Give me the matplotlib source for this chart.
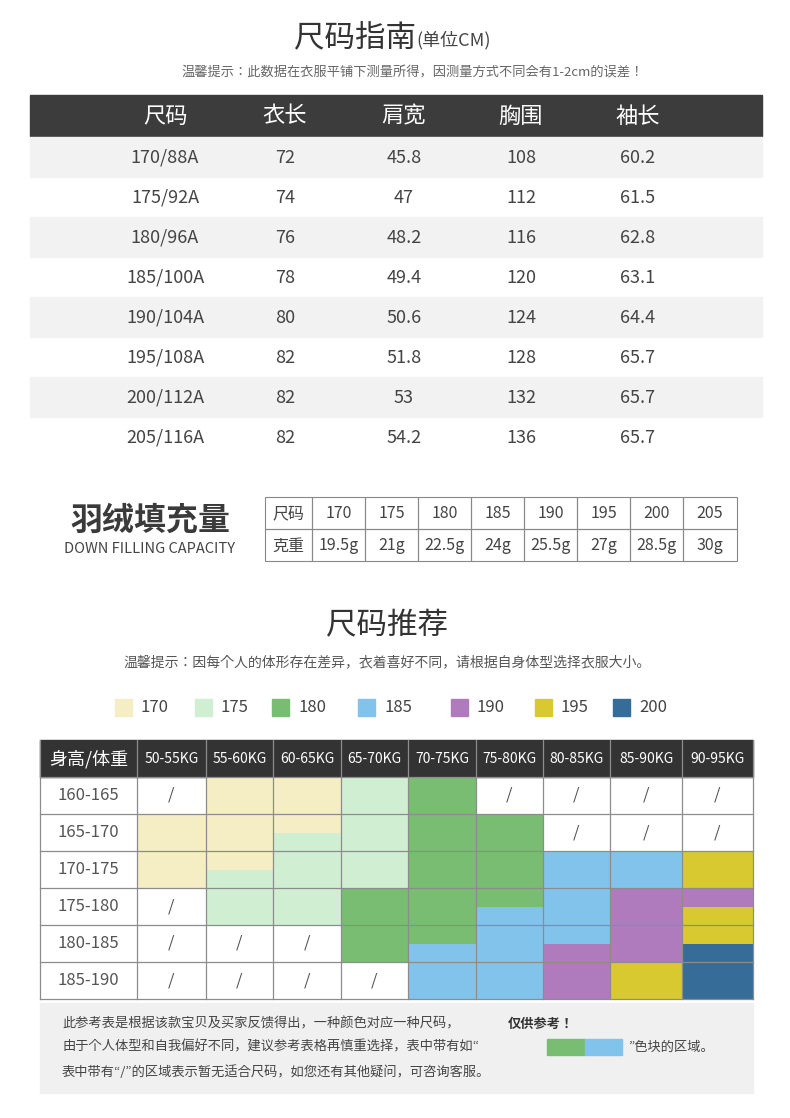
import matplotlib.pyplot as plt
from matplotlib.patches import Rectangle
from matplotlib import font_manager

names = {f.name for f in font_manager.fontManager.ttflist}
cjk = [n for n in ['Noto Sans CJK SC', 'Noto Sans CJK JP', 'Noto Sans CJK TC', 'Noto Sans CJK KR'] if n in names]
plt.rcParams['font.family'] = cjk + ['DejaVu Sans']

# 尺码表
size_cols = ['尺码', '衣长', '肩宽', '胸围', '袖长']
sizes = ['170/88A', '175/92A', '180/96A', '185/100A', '190/104A', '195/108A', '200/112A', '205/116A']
length = ['72', '74', '76', '78', '80', '82', '82', '82']
shoulder = ['45.8', '47', '48.2', '49.4', '50.6', '51.8', '53', '54.2']
chest = ['108', '112', '116', '120', '124', '128', '132', '136']
sleeve = ['60.2', '61.5', '62.8', '63.1', '64.4', '65.7', '65.7', '65.7']

# 羽绒填充量
fill_sizes = ['170', '175', '180', '185', '190', '195', '200', '205']
fill_weight = ['19.5g', '21g', '22.5g', '24g', '25.5g', '27g', '28.5g', '30g']

# 尺码推荐
legend_sizes = ['170', '175', '180', '185', '190', '195', '200']
weights = ['50-55KG', '55-60KG', '60-65KG', '65-70KG', '70-75KG', '75-80KG', '80-85KG', '85-90KG', '90-95KG']
heights = ['160-165', '165-170', '170-175', '175-180', '180-185', '185-190']
grid = [
    [None, '170', '170', '175', '180', None, None, None, None],
    ['170', '170', ('170', '175'), '175', '180', '180', None, None, None],
    ['170', ('170', '175'), '175', '175', '180', '180', '185', '185', '195'],
    [None, '175', '175', '180', '180', ('180', '185'), '185', '190', ('190', '195')],
    [None, None, None, '180', ('180', '185'), '185', ('185', '190'), '190', ('195', '200')],
    [None, None, None, None, '185', '185', '190', '195', '200'],
]

colors = {'170': '#f5edc4', '175': '#d0efd2', '180': '#79bd73', '185': '#82c3ec',
          '190': '#b07bbd', '195': '#d8c931', '200': '#366d98'}
dark = '#3c3c3c'
txt = '#444444'

fig = plt.figure(figsize=(7.9, 11.18), dpi=100)
ax = fig.add_axes([0, 0, 1, 1])
ax.set_xlim(0, 790)
ax.set_ylim(1118, 0)
ax.axis('off')

# ---- 尺码指南 ----
ax.text(416, 38, '尺码指南', fontsize=22, color='#333333', ha='right', va='center')
ax.text(416, 40, '(单位CM)', fontsize=13, color='#444444', ha='left', va='center')
ax.text(413, 73, '温馨提示：此数据在衣服平铺下测量所得，因测量方式不同会有1-2cm的误差！',
        fontsize=9.5, color='#666666', ha='center', va='center')
col_x = [165, 285, 404, 521, 638]
ax.add_patch(Rectangle((30, 95), 732, 41, color=dark))
for x, c in zip(col_x, size_cols):
    ax.text(x, 116, c, fontsize=16, color='white', ha='center', va='center')
for i, row in enumerate(zip(sizes, length, shoulder, chest, sleeve)):
    y0 = 137 + i * 40
    if i % 2 == 0:
        ax.add_patch(Rectangle((30, y0), 732, 40, color='#f2f2f2'))
    for x, v in zip(col_x, row):
        ax.text(x, y0 + 21, v, fontsize=13, color=txt, ha='center', va='center')

# ---- 羽绒填充量 ----
ax.text(150, 521, '羽绒填充量', fontsize=23, fontweight='bold', color='#3a3a3a', ha='center', va='center')
ax.text(150, 549, 'DOWN FILLING CAPACITY', fontsize=10.5, color='#444444', ha='center', va='center')
fx = [265, 312] + [312 + 53 * (k + 1) for k in range(8)]
fx[-1] = 737
for r, (lab, vals) in enumerate([('尺码', fill_sizes), ('克重', fill_weight)]):
    y0 = 497 + r * 32
    cells = [lab] + vals
    for k, v in enumerate(cells):
        ax.add_patch(Rectangle((fx[k], y0), fx[k + 1] - fx[k], 32, fill=False, ec='#888888', lw=0.8))
        ax.text((fx[k] + fx[k + 1]) / 2, y0 + 17, v, fontsize=11.5, color=txt, ha='center', va='center')

# ---- 尺码推荐 ----
ax.text(387, 626, '尺码推荐', fontsize=22, color='#333333', ha='center', va='center')
ax.text(387, 662, '温馨提示：因每个人的体形存在差异，衣着喜好不同，请根据自身体型选择衣服大小。',
        fontsize=10, color='#555555', ha='center', va='center')
leg_x = [115, 195, 272, 358, 451, 535, 613]
for x, s in zip(leg_x, legend_sizes):
    ax.add_patch(Rectangle((x, 699), 17, 17, color=colors[s]))
    ax.text(x + 26, 708, s, fontsize=12, color=txt, ha='left', va='center')

gx = [40, 137, 206, 273, 341, 408, 476, 543, 610, 682, 753]
gy = [740, 777, 814, 851, 888, 925, 962, 999]
ax.add_patch(Rectangle((40, 740), 713, 37, color='#333333'))
ax.text((gx[0] + gx[1]) / 2, 759, '身高/体重', fontsize=13, color='white', ha='center', va='center')
for j, w in enumerate(weights):
    ax.text((gx[j + 1] + gx[j + 2]) / 2, 759, w, fontsize=10, color='white', ha='center', va='center')
for i, h in enumerate(heights):
    y0, y1 = gy[i + 1], gy[i + 2]
    ax.text((gx[0] + gx[1]) / 2, (y0 + y1) / 2, h, fontsize=12, color='#555555', ha='center', va='center')
    for j, cell in enumerate(grid[i]):
        x0, x1 = gx[j + 1], gx[j + 2]
        if cell is None:
            ax.text((x0 + x1) / 2, (y0 + y1) / 2, '/', fontsize=12, color='#555555', ha='center', va='center')
        elif isinstance(cell, tuple):
            mid = (y0 + y1) / 2
            ax.add_patch(Rectangle((x0, y0), x1 - x0, mid - y0, color=colors[cell[0]], lw=0))
            ax.add_patch(Rectangle((x0, mid), x1 - x0, y1 - mid, color=colors[cell[1]], lw=0))
        else:
            ax.add_patch(Rectangle((x0, y0), x1 - x0, y1 - y0, color=colors[cell], lw=0))
for x in gx:
    ax.plot([x, x], [740, 999], color='#8c8c8c', lw=0.9)
for y in gy[1:]:
    ax.plot([40, 753], [y, y], color='#8c8c8c', lw=0.9)

# ---- 说明 ----
ax.add_patch(Rectangle((40, 1003), 713, 90, color='#f0f0f0'))
ax.text(62, 1024, '此参考表是根据该款宝贝及买家反馈得出，一种颜色对应一种尺码，', fontsize=9.5, color='#444444', va='center')
ax.text(508, 1024, '仅供参考！', fontsize=9.5, color='#333333', va='center', fontweight='bold')
ax.text(62, 1047, '由于个人体型和自我偏好不同，建议参考表格再慎重选择，表中带有如“', fontsize=9.5, color='#444444', va='center')
ax.add_patch(Rectangle((547, 1039), 38, 16, color=colors['180']))
ax.add_patch(Rectangle((585, 1039), 37, 16, color=colors['185']))
ax.text(628, 1047, '”色块的区域。', fontsize=9.5, color='#444444', va='center')
ax.text(62, 1072, '表中带有“/”的区域表示暂无适合尺码，如您还有其他疑问，可咨询客服。', fontsize=9.5, color='#444444', va='center')

fig.savefig('out.png', dpi=100, facecolor='white')
